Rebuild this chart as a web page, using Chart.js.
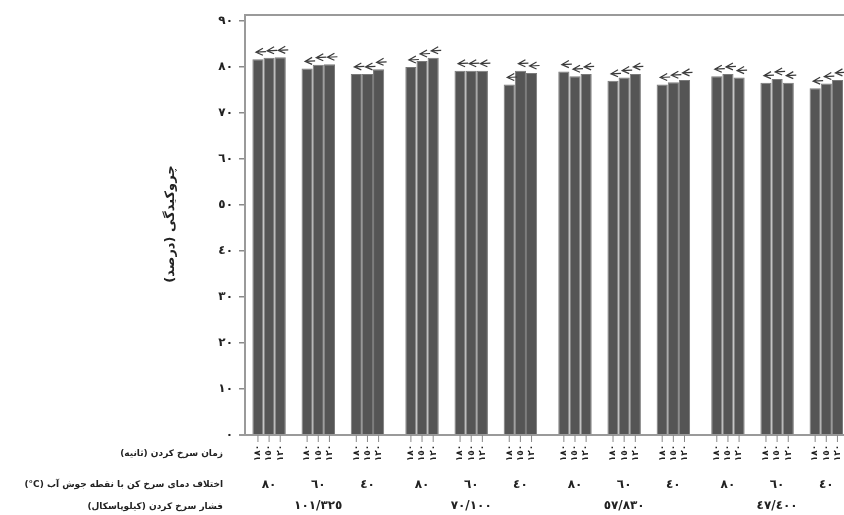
<!DOCTYPE html>
<html>
<head>
<meta charset="utf-8">
<script src="https://cdn.jsdelivr.net/npm/chart.js@4/dist/chart.umd.min.js"></script>
<style>
  html, body { margin: 0; padding: 0; background: #fff; }
  #wrap { width: 844px; height: 515px; position: relative; }
</style>
</head>
<body>
<div id="wrap"><canvas id="chart"></canvas></div>
<script>
// frying time (s), one series per time
const fryTimes = ['١٨٠', '١٥٠', '١٢٠'];
// oil temperature minus boiling point (°C), per group
const tempDiffs = ['٨٠', '٦٠', '٤٠', '٨٠', '٦٠', '٤٠', '٨٠', '٦٠', '٤٠', '٨٠', '٦٠', '٤٠'];
// frying pressure (kPa), one per 3 groups
const pressures = ['١٠١/٣٢٥', '٧٠/١٠٠', '٥٧/٨٣٠', '٤٧/٤٠٠'];
const yTickLabels = ['٠', '١٠', '٢٠', '٣٠', '٤٠', '٥٠', '٦٠', '٧٠', '٨٠', '٩٠'];

// shrinkage (%)
const time1 = [81.7, 79.7, 78.5, 80.0, 79.2, 76.2, 79.0, 77.0, 76.2, 78.0, 76.6, 75.4];
const time2 = [82.0, 80.5, 78.5, 81.3, 79.2, 79.2, 78.0, 77.7, 76.7, 78.5, 77.4, 76.4];
const time3 = [82.1, 80.6, 79.5, 82.0, 79.2, 78.7, 78.5, 78.5, 77.2, 77.7, 76.6, 77.2];

const yTitle = 'چروکیدگی (درصد)';
const rowTitles = ['زمان سرخ کردن (ثانیه)', 'اختلاف دمای سرخ کن با نقطه جوش آب (\u200E°C)', 'فشار سرخ کردن (کیلوپاسکال)'];

const FONT = 'bold 12px "DejaVu Sans"';
const groupPos = i => i + 0.11 * Math.floor(i / 3);
const toPoints = arr => arr.map((v, i) => ({ x: groupPos(i), y: v }));

const barStyle = {
  backgroundColor: '#555555',
  borderColor: '#7a7a7a',
  borderWidth: 1,
  categoryPercentage: 0.68,
  barPercentage: 1.0
};

const decorations = {
  id: 'decorations',
  afterDatasetsDraw(chart) {
    const { ctx, chartArea } = chart;
    const yScale = chart.scales.y;
    const axisX = chartArea.left;
    const baseY = yScale.getPixelForValue(0);

    ctx.save();
    // frame lines
    ctx.strokeStyle = '#9a9a9a';
    ctx.lineWidth = 2;
    ctx.beginPath();
    ctx.moveTo(axisX, 14);
    ctx.lineTo(axisX, baseY + 1);
    ctx.moveTo(axisX - 1, 15);
    ctx.lineTo(chart.width, 15);
    ctx.moveTo(axisX - 6, baseY);
    ctx.lineTo(chart.width, baseY);
    ctx.stroke();

    // marks above bars, ticks and time labels under bars
    chart.data.datasets.forEach((ds, k) => {
      chart.getDatasetMeta(k).data.forEach(bar => {
        ctx.strokeStyle = '#3a3a3a';
        ctx.lineWidth = 1.2;
        ctx.beginPath();
        ctx.moveTo(bar.x + 5, bar.y - 11);
        ctx.lineTo(bar.x - 2, bar.y - 7);
        ctx.lineTo(bar.x + 5, bar.y - 4);
        ctx.moveTo(bar.x - 2, bar.y - 7);
        ctx.lineTo(bar.x + 8, bar.y - 7.5);
        ctx.stroke();

        ctx.strokeStyle = '#8a8a8a';
        ctx.lineWidth = 1;
        ctx.beginPath();
        ctx.moveTo(bar.x, baseY);
        ctx.lineTo(bar.x, baseY + 7);
        ctx.stroke();

        ctx.save();
        ctx.translate(bar.x, baseY + 18);
        ctx.rotate(-Math.PI / 2);
        ctx.fillStyle = '#222';
        ctx.font = 'bold 9px "DejaVu Sans"';
        ctx.textAlign = 'center';
        ctx.textBaseline = 'middle';
        ctx.fillText(fryTimes[k], 0, 0);
        ctx.restore();
      });
    });

    // group and pressure labels
    const xScale = chart.scales.x;
    ctx.fillStyle = '#222';
    ctx.font = FONT;
    ctx.textAlign = 'center';
    ctx.textBaseline = 'middle';
    tempDiffs.forEach((t, i) => {
      ctx.fillText(t, xScale.getPixelForValue(groupPos(i)), 485);
    });
    pressures.forEach((p, j) => {
      ctx.fillText(p, xScale.getPixelForValue(groupPos(j * 3 + 1)), 506);
    });

    // row titles on the left
    ctx.direction = 'rtl';
    ctx.textAlign = 'right';
    ctx.font = 'bold 9px "DejaVu Sans"';
    ctx.fillText(rowTitles[0], 223, 454);
    ctx.fillText(rowTitles[1], 223, 485);
    ctx.fillText(rowTitles[2], 223, 507);

    // y axis title
    ctx.save();
    ctx.translate(171, 224);
    ctx.rotate(-Math.PI / 2);
    ctx.textAlign = 'center';
    ctx.font = 'bold 13px "DejaVu Sans"';
    ctx.fillText(yTitle, 0, 0);
    ctx.restore();
    ctx.restore();
  }
};

new Chart(document.getElementById('chart'), {
  type: 'bar',
  data: {
    datasets: [
      { label: fryTimes[0], data: toPoints(time1), ...barStyle },
      { label: fryTimes[1], data: toPoints(time2), ...barStyle },
      { label: fryTimes[2], data: toPoints(time3), ...barStyle }
    ]
  },
  options: {
    responsive: true,
    maintainAspectRatio: false,
    animation: false,
    layout: { padding: { top: 21, bottom: 80, left: 0, right: 0 } },
    scales: {
      x: {
        type: 'linear',
        min: -0.49,
        max: 11.69,
        offset: false,
        display: false
      },
      y: {
        min: 0,
        max: 90,
        afterFit: s => { s.width = 245; },
        border: { display: false },
        grid: { drawOnChartArea: false, drawTicks: true, tickLength: 6, color: '#8a8a8a', lineWidth: 1.5 },
        ticks: {
          stepSize: 10,
          padding: 6,
          color: '#222',
          font: { family: 'DejaVu Sans', size: 12, weight: 'bold' },
          callback: (v, i) => yTickLabels[i]
        }
      }
    },
    plugins: {
      legend: { display: false },
      tooltip: { enabled: false }
    }
  },
  plugins: [decorations]
});
</script>
</body>
</html>
